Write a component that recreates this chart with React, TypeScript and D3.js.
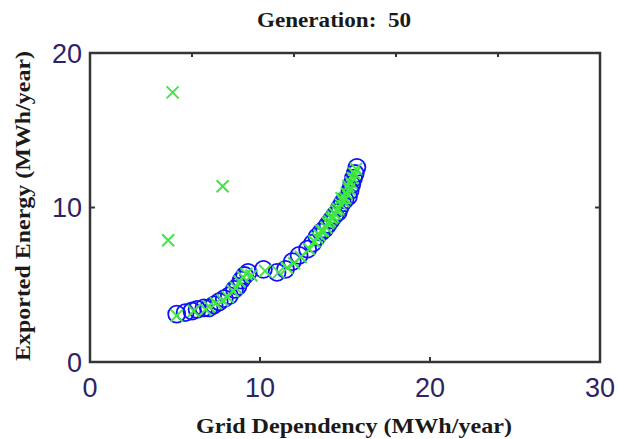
import React from "react";
import * as d3 from "d3";

const title = "Generation:  50";
const xLabel = "Grid Dependency (MWh/year)";
const yLabel = "Exported Energy (MWh/year)";
const xTicks = [0, 10, 20, 30];
const xTopTicks = [6, 12, 18, 24];
const yTicks = [0, 10, 20];

// Pareto front (blue circles)
const frontX = [5.1, 5.6, 6.0, 6.3, 6.7, 7.0, 7.3, 7.6, 7.9, 8.2, 8.5, 8.7, 8.9, 9.1, 9.3, 10.2, 11.0, 11.5, 11.9, 12.3, 12.8, 13.1, 13.35, 13.6, 13.8, 14.0, 14.2, 14.4, 14.6, 14.7, 14.85, 15.0, 15.2, 15.3, 15.4, 15.5, 15.6, 15.7];
const frontY = [3.1, 3.2, 3.3, 3.4, 3.5, 3.5, 3.7, 3.9, 4.1, 4.3, 4.7, 4.9, 5.3, 5.6, 5.8, 6.0, 5.8, 6.0, 6.5, 6.9, 7.3, 7.7, 8.1, 8.4, 8.6, 8.9, 9.2, 9.5, 9.7, 10.0, 10.3, 10.5, 10.7, 11.1, 11.5, 11.9, 12.2, 12.6];

// Population (green crosses)
const popX = [4.86, 7.8, 4.6, 5.1, 6.1, 6.8, 7.0, 7.4, 7.8, 8.1, 8.4, 8.6, 8.8, 9.0, 9.2, 9.5, 10.3, 11.1, 11.6, 12.0, 12.4, 12.9, 13.2, 13.4, 13.5, 13.7, 13.9, 14.0, 14.1, 14.3, 14.4, 14.5, 14.6, 14.75, 14.9, 15.0, 15.1, 15.25, 15.35, 15.45, 15.55, 15.65, 13.6, 14.2, 14.8, 15.2];
const popY = [17.45, 11.38, 7.88, 3.0, 3.3, 3.4, 3.6, 3.8, 4.0, 4.2, 4.6, 4.8, 5.2, 5.5, 5.7, 5.6, 5.9, 5.8, 6.1, 6.4, 6.8, 7.3, 7.8, 8.0, 8.2, 8.5, 8.7, 9.0, 9.1, 9.4, 9.6, 9.8, 9.9, 10.2, 10.4, 10.6, 10.9, 11.2, 11.6, 11.9, 12.2, 12.5, 8.5, 9.3, 10.6, 11.4];

export default function App() {
  const W = 618, H = 439;
  const x = d3.scaleLinear().domain([0, 30]).range([90, 600]);
  const y = d3.scaleLinear().domain([0, 20]).range([362, 53]);
  const tickColor = "#2d2366";
  const frame = "#353535";
  const serif = "'Liberation Serif', 'DejaVu Serif', serif";
  const sans = "'Liberation Sans', Arial, sans-serif";
  const cs = 6;
  return (
    <svg width={W} height={H} style={{ position: "absolute", left: 0, top: 0, background: "#fff" }}>
      <rect x={0} y={0} width={W} height={H} fill="#fff" />
      <text x={334} y={27} textAnchor="middle" fontFamily={serif} fontWeight="bold" fontSize={20} fill="#1a1a1a" textLength={154} lengthAdjust="spacingAndGlyphs" style={{ whiteSpace: "pre" }}>{title}</text>
      {/* ticks */}
      {xTicks.slice(1, -1).map((t) => (
        <line key={"xt" + t} x1={x(t)} x2={x(t)} y1={y(0)} y2={y(0) - 5} stroke={frame} strokeWidth={2} />
      ))}
      {xTopTicks.map((t) => (
        <line key={"xtt" + t} x1={x(t)} x2={x(t)} y1={y(20)} y2={y(20) + 4} stroke={frame} strokeWidth={2} />
      ))}
      {yTicks.slice(1, -1).map((t) => (
        <g key={"yt" + t}>
          <line x1={x(0)} x2={x(0) + 5} y1={y(t)} y2={y(t)} stroke={frame} strokeWidth={2} />
          <line x1={x(30)} x2={x(30) - 5} y1={y(t)} y2={y(t)} stroke={frame} strokeWidth={2} />
        </g>
      ))}
      <rect x={x(0)} y={y(20)} width={x(30) - x(0)} height={y(0) - y(20)} fill="none" stroke={frame} strokeWidth={2.5} />
      {xTicks.map((t) => (
        <text key={"xl" + t} x={x(t)} y={397} textAnchor="middle" fontFamily={sans} fontSize={27} fill={tickColor}>{t}</text>
      ))}
      {yTicks.map((t) => (
        <text key={"yl" + t} x={82} y={y(t)} dy="0.36em" textAnchor="end" fontFamily={sans} fontSize={27} fill={tickColor}>{t}</text>
      ))}
      <text x={354} y={433} textAnchor="middle" fontFamily={serif} fontWeight="bold" fontSize={21} fill="#1a1a1a" textLength={316} lengthAdjust="spacingAndGlyphs">{xLabel}</text>
      <text transform={`translate(30, 206) rotate(-90)`} textAnchor="middle" fontFamily={serif} fontWeight="bold" fontSize={21} fill="#1a1a1a" textLength={310} lengthAdjust="spacingAndGlyphs">{yLabel}</text>
      <g>
        {frontX.map((v, i) => (
          <circle key={"c" + i} cx={x(v)} cy={y(frontY[i])} r={8.5} fill="none" stroke="#1010ff" strokeWidth={1.8} />
        ))}
      </g>
      <g>
        {popX.map((v, i) => {
          const cx = x(v), cy = y(popY[i]);
          return (
            <path key={"p" + i} d={`M${cx - cs},${cy - cs}L${cx + cs},${cy + cs}M${cx - cs},${cy + cs}L${cx + cs},${cy - cs}`} stroke="#3ee83e" strokeWidth={2} fill="none" />
          );
        })}
      </g>
    </svg>
  );
}
